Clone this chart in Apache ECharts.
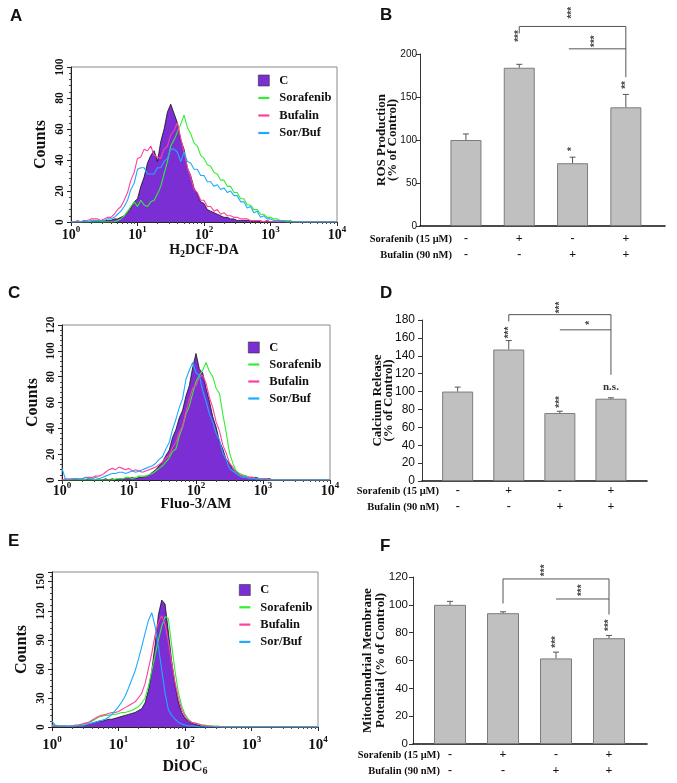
<!DOCTYPE html>
<html>
<head>
<meta charset="utf-8">
<title>ROS, calcium release and mitochondrial membrane potential</title>
<script src="https://cdn.jsdelivr.net/npm/echarts@6.0.0/dist/echarts.min.js"></script>
<style>
  html, body { margin: 0; padding: 0; background: #fff; }
  #main { width: 677px; height: 783px; }
</style>
</head>
<body>
<div id="main"></div>
<script>
var SERIF = "'Liberation Serif', 'Times New Roman', serif";
var SANS = "'Liberation Sans', Arial, sans-serif";

// flow cytometry channels, 20 per decade from 10^0 to 10^4
var channelExp = [];
for (var i = 0; i <= 80; i++) channelExp.push(i / 20);
var channels = channelExp.map(function (e) { return Math.pow(10, e); });

var histNames = ["C", "Sorafenib", "Bufalin", "Sor/Buf"];
var histColors = ["#7a2ed3", "#33ee33", "#ff3fa0", "#1eaaff"];

// A: H2DCF-DA
var dcfC = [0,0,0,0,1,0,0,1,0,1,1,1, 1,2,2,3,4,6, 9,13,15,23,29,38, 43,46,39,52,60,71, 76,70,64,53,47,35,
  30,22,18,13,12,8, 7,6,5,4,3,3, 2,2,1,1,1,1, 1,0,1,0,0,1, 0,0,0,0,0,0,0,0,0,0,0,0,0,0,0,0,0,0,0,0,0];
var dcfSor = [0,0,0,0,0,0,0,0,0,0,0,0, 0,0,1,2,4,7, 10,13,10,14,11,10, 13,14,18,23,31,39, 49,53,58,63,69,61,
  57,51,49,43,41,37, 36,32,31,27,27,23, 23,19,19,15,15,11, 11,8,8,5,5,3, 3,2,2,1,1,1, 1,0,0,0,0,0,0,0,0,0,0,0,0,0,0];
var dcfBuf = [0,0,1,0,1,1,2,2,2,1,2,3, 3,5,8,10,14,19, 27,32,41,42,47,46, 49,43,42,41,47,49, 56,59,64,54,45,35,
  29,21,19,14,14,10, 10,7,8,5,6,4, 4,3,3,2,2,2, 1,1,1,1,0,1, 0,0,0,0,0,0,0,0,0,0,0,0,0,0,0,0,0,0,0,0,0];
var dcfSorBuf = [0,0,0,0,1,0,1,1,1,1,1,2, 2,3,5,7,10,14, 21,25,34,35,35,31, 31,31,35,35,39,41, 47,47,45,39,45,39,
  38,34,34,30,30,26, 26,23,24,21,22,19, 20,17,17,13,13,9, 10,6,7,3,4,2, 2,1,1,1,1,0, 0,0,0,0,0,0,0,0,0,0,0,0,0,0,0];

// C: Fluo-3/AM
var fluoC = [0,0,0,0,1,0,0,0,1,0,0,0, 0,1,0,1,0,1, 1,1,1,2,1,2, 2,3,4,6,8,11, 14,19,23,33,39,48,
  54,65,73,87,98,86, 83,71,61,49,41,30, 24,16,13,8,7,4, 3,3,2,2,2,1, 1,1,1,0,0,0, 0,0,0,0,0,0,0,0,0,0,0,0,0,0,0];
var fluoSor = [0,0,0,0,0,0,0,0,0,0,0,0, 0,0,0,0,1,1, 1,2,2,1,2,3, 3,3,4,5,7,9, 11,14,17,22,24,34,
  41,51,57,67,76,81, 85,91,84,80,71,67, 51,37,21,13,7,5, 4,3,2,2,1,1, 1,1,0,0,0,0, 0,0,0,0,0,0,0,0,0,0,0,0,0,0,0];
var fluoBuf = [0,1,0,1,1,1,1,2,2,2,3,3, 4,6,8,9,8,10, 9,8,9,7,8,7, 6,7,8,9,10,12, 14,17,19,25,29,37,
  42,53,62,71,73,80, 81,75,64,56,45,38, 27,21,13,10,5,4, 3,2,2,2,1,1, 1,1,0,0,0,0, 0,0,0,0,0,0,0,0,0,0,0,0,0,0,0];
var fluoSorBuf = [9,1,1,1,1,1,1,2,1,1,2,1, 2,3,4,5,5,6, 6,5,6,7,6,7, 8,9,10,11,13,16, 18,24,29,39,47,56,
  63,78,85,91,83,81, 69,61,51,45,36,31, 21,16,9,7,5,3, 2,2,1,1,1,1, 0,0,0,0,0,0, 0,0,0,0,0,0,0,0,0,0,0,0,0,0,0];

// E: DiOC6
var diocC = [3,1,1,1,1,0,1,1,1,2,2,3, 4,5,6,6,7,8, 8,9,10,11,12,13, 14,15,17,19,25,38, 58,85,116,131,127,98,
  68,44,26,15,9,6, 4,3,2,1,1,1, 0,0,0,0,0,0, 0,0,0,0,0,0,0,0,0,0,0,0,0,0,0,0,0,0,0,0,0,0,0,0,0,0,0];
var diocSor = [2,1,1,1,1,1,1,1,2,2,3,4, 6,8,10,11,12,12, 13,13,14,15,15,16, 17,19,21,25,30,42, 58,74,90,104,114,112,
  84,58,36,22,13,8, 5,4,3,2,2,1, 1,1,1,0,0,0, 0,0,0,0,0,0,0,0,0,0,0,0,0,0,0,0,0,0,0,0,0,0,0,0,0,0,0];
var diocBuf = [1,1,1,1,1,1,1,2,2,3,4,5, 7,9,11,12,13,14, 15,15,16,18,20,22, 24,26,30,35,45,60, 76,95,108,115,106,88,
  66,46,30,18,11,7, 5,4,3,2,1,1, 1,0,0,0,0,0, 0,0,0,0,0,0,0,0,0,0,0,0,0,0,0,0,0,0,0,0,0,0,0,0,0,0,0];
var diocSorBuf = [6,2,1,1,1,1,1,1,1,1,2,3, 4,5,6,7,8,10, 13,17,21,26,32,40, 49,58,70,83,97,110, 118,104,83,59,35,18,
  12,8,5,3,2,1, 1,1,0,0,0,0, 0,0,0,0,0,0, 0,0,0,0,0,0,0,0,0,0,0,0,0,0,0,0,0,0,0,0,0,0,0,0,0,0,0];

// bar panels
var treatments = ["Control", "Sorafenib", "Bufalin", "Sor/Buf"];
var sorafenibRow = ["-", "+", "-", "+"];
var bufalinRow = ["-", "-", "+", "+"];
var rosMean = [100, 184, 73, 138];
var rosErr = [7, 4, 7, 15];
var calciumMean = [100, 147, 76, 92];
var calciumErr = [5, 10, 2, 1];
var mmpMean = [100, 94, 61.5, 76];
var mmpErr = [2.5, 1, 4.5, 2];

var chart = echarts.init(document.getElementById("main"));

var grids = [], xAxes = [], yAxes = [], series = [], legends = [];
var LINE_ICON = "path://M0,0L12,0L12,2.4L0,2.4Z";

function boldSerif(size, extra) {
  var s = { fontFamily: SERIF, fontWeight: "bold", fontSize: size, color: "#111" };
  for (var k in extra) s[k] = extra[k];
  return s;
}

function histPanel(p) {
  var gi = grids.length;
  grids.push({
    left: p.left, top: p.top, width: p.width, height: p.height,
    show: true, borderColor: "#8a8a8a", borderWidth: 1,
    outerBoundsMode: "none"
  });
  xAxes.push({
    gridIndex: gi, type: "log", logBase: 10, min: 1, max: 10000,
    axisLine: { show: true, lineStyle: { color: "#222", width: 1 } },
    axisTick: { show: true, length: 4, lineStyle: { color: "#222" } },
    minorTick: { show: true, splitNumber: 9, length: 2, lineStyle: { color: "#444" } },
    splitLine: { show: false },
    axisLabel: {
      margin: p.xMargin,
      formatter: function (v) {
        return "{b|10}{s|" + Math.round(Math.log10(v)) + "}";
      },
      rich: {
        b: boldSerif(p.tickSize, { lineHeight: 20 }),
        s: boldSerif(9, { verticalAlign: "top" })
      }
    },
    name: p.xName, nameLocation: "middle", nameGap: p.xNameGap, nameMoveOverlap: false,
    nameTextStyle: {
      rich: {
        n: boldSerif(p.nameSize, { lineHeight: 18 }),
        sub: boldSerif(10, { verticalAlign: "bottom" })
      }
    }
  });
  yAxes.push({
    gridIndex: gi, type: "value", min: 0, max: p.yMax, interval: p.yStep,
    axisLine: { show: true, lineStyle: { color: "#222", width: 1 } },
    axisTick: { show: true, length: 4, lineStyle: { color: "#222" } },
    minorTick: { show: true, splitNumber: 5, length: 2, lineStyle: { color: "#444" } },
    splitLine: { show: false },
    axisLabel: boldSerif(11.5, { rotate: 90, margin: p.yMargin, showMaxLabel: p.yMax % p.yStep === 0 }),
    name: "Counts", nameLocation: "middle", nameRotate: 90, nameGap: p.yNameGap, nameMoveOverlap: false,
    nameTextStyle: boldSerif(16)
  });
  p.sets.forEach(function (vals, k) {
    var s = {
      type: "line", name: histNames[k], xAxisIndex: gi, yAxisIndex: gi,
      data: channels.map(function (c, j) { return [c, vals[j]]; }),
      symbol: "none", silent: true, z: 2 + k,
      color: histColors[k],
      lineStyle: { width: 1.1, color: histColors[k] }
    };
    if (k === 0) {
      s.lineStyle = { width: 0.8, color: "#111" };
      s.areaStyle = { color: histColors[0], opacity: 1 };
    }
    series.push(s);
  });
  legends.push({
    orient: "vertical", left: p.legendLeft, top: p.legendTop,
    itemWidth: 11, itemHeight: 11, itemGap: p.legendGap, padding: 0,
    selectedMode: false,
    data: [
      { name: "C", icon: "rect", itemStyle: { color: histColors[0], borderColor: "#333", borderWidth: 0.6 } },
      { name: "Sorafenib", icon: LINE_ICON, itemStyle: { color: histColors[1], borderWidth: 0 } },
      { name: "Bufalin", icon: LINE_ICON, itemStyle: { color: histColors[2], borderWidth: 0 } },
      { name: "Sor/Buf", icon: LINE_ICON, itemStyle: { color: histColors[3], borderWidth: 0 } }
    ],
    textStyle: boldSerif(12.5, { padding: [0, 0, 0, 5] })
  });
}

function barPanel(p) {
  var gv = grids.length;
  grids.push({ left: p.axisLeft, top: p.top, width: p.axisWidth, height: p.height, outerBoundsMode: "none" });
  var gb = grids.length;
  grids.push({ left: p.barLeft, top: p.top, width: p.barBand * 4, height: p.height, outerBoundsMode: "none" });

  xAxes.push({
    gridIndex: gv, type: "value", min: 0, max: 1,
    axisLine: { show: true, onZero: false, lineStyle: { color: "#111", width: 1.6 } },
    axisTick: { show: false }, axisLabel: { show: false }, splitLine: { show: false }
  });
  yAxes.push({
    gridIndex: gv, type: "value", min: 0, max: p.yMax, interval: p.yStep,
    axisLine: { show: true, lineStyle: { color: "#333", width: 1 } },
    axisTick: { show: true, length: 4, lineStyle: { color: "#333" } },
    splitLine: { show: false },
    axisLabel: { fontFamily: SANS, fontSize: p.tickSize, color: "#111", margin: p.yMargin },
    name: p.yName, nameLocation: "middle", nameRotate: 90, nameGap: p.yNameGap, nameMoveOverlap: false,
    nameTextStyle: boldSerif(13, { lineHeight: p.nameLine })
  });
  xAxes.push({
    gridIndex: gb, type: "category", data: treatments,
    axisLine: { show: false }, axisTick: { show: false }, splitLine: { show: false },
    axisLabel: {
      interval: 0, margin: p.xMargin,
      formatter: function (v, idx) {
        return "{p|" + sorafenibRow[idx] + "}\n{p|" + bufalinRow[idx] + "}";
      },
      rich: { p: boldSerif(12, { lineHeight: 16 }) }
    }
  });
  yAxes.push({ gridIndex: gb, type: "value", min: 0, max: p.yMax, show: false });

  series.push({
    type: "bar", xAxisIndex: gb, yAxisIndex: gb, data: p.mean,
    barWidth: p.barWidth, silent: true, z: 2,
    itemStyle: { color: "#c0c0c0", borderColor: "#7c7c7c", borderWidth: 1 }
  });
  series.push({
    type: "custom", xAxisIndex: gb, yAxisIndex: gb, silent: true, z: 3,
    data: p.mean.map(function (m, j) { return [j, m, m + p.err[j]]; }),
    renderItem: function (params, api) {
      var base = api.coord([api.value(0), api.value(1)]);
      var top = api.coord([api.value(0), api.value(2)]);
      return {
        type: "group",
        children: [
          { type: "line", shape: { x1: base[0], y1: base[1], x2: top[0], y2: top[1] }, style: { stroke: "#555", lineWidth: 1 } },
          { type: "line", shape: { x1: top[0] - 3, y1: top[1], x2: top[0] + 3, y2: top[1] }, style: { stroke: "#555", lineWidth: 1 } }
        ]
      };
    }
  });
  return gb;
}

histPanel({
  left: 71, top: 67, width: 266, height: 155, yMax: 100, yStep: 20,
  sets: [dcfC, dcfSor, dcfBuf, dcfSorBuf],
  xName: "{n|H}{sub|2}{n|DCF-DA}", nameSize: 14, tickSize: 14, xMargin: 3, xNameGap: 19,
  yMargin: 5, yNameGap: 22, legendLeft: 258, legendTop: 74, legendGap: 4.5
});
var gB = barPanel({
  axisLeft: 420, axisWidth: 245, barLeft: 439.3, barBand: 53.3, top: 54, height: 172,
  yMax: 200, yStep: 50, tickSize: 10, yMargin: 3, xMargin: 5,
  yName: "ROS Production\n(% of Control)", nameLine: 11, yNameGap: 22,
  mean: rosMean, err: rosErr, barWidth: 31
});
histPanel({
  left: 62, top: 325, width: 268, height: 155, yMax: 120, yStep: 20,
  sets: [fluoC, fluoSor, fluoBuf, fluoSorBuf],
  xName: "{n|Fluo-3/AM}", nameSize: 15, tickSize: 14, xMargin: 1, xNameGap: 15,
  yMargin: 4.5, yNameGap: 21.5, legendLeft: 248, legendTop: 341, legendGap: 4
});
var gD = barPanel({
  axisLeft: 422, axisWidth: 225, barLeft: 432.1, barBand: 51.1, top: 320, height: 161,
  yMax: 180, yStep: 20, tickSize: 12, yMargin: 7, xMargin: 2,
  yName: "Calcium Release\n(% of Control)", nameLine: 11, yNameGap: 28,
  mean: calciumMean, err: calciumErr, barWidth: 31
});
histPanel({
  left: 52, top: 572, width: 266, height: 155, yMax: 160, yStep: 30,
  sets: [diocC, diocSor, diocBuf, diocSorBuf],
  xName: "{n|DiOC}{sub|6}", nameSize: 16, tickSize: 15, xMargin: 8, xNameGap: 31,
  yMargin: 5, yNameGap: 22, legendLeft: 239, legendTop: 583.5, legendGap: 4.3
});
var gF = barPanel({
  axisLeft: 413, axisWidth: 234, barLeft: 423.5, barBand: 53, top: 577, height: 167,
  yMax: 120, yStep: 20, tickSize: 11.5, yMargin: 5, xMargin: 3,
  yName: "Mitochondrial Membrane\nPotential (% of Control)", nameLine: 13, yNameGap: 26,
  mean: mmpMean, err: mmpErr, barWidth: 32
});

chart.setOption({
  animation: false,
  backgroundColor: "#ffffff",
  grid: grids, xAxis: xAxes, yAxis: yAxes, series: series, legend: legends
});

// significance marks, in data units of each bar panel (x in category steps)
var sigB = {
  grid: gB,
  brackets: [{ from: 1, to: 3, y: 232, fromDrop: 224, toDrop: 173 }, { from: 1.93, to: 3, y: 206 }],
  stars: [{ x: 2, y: 248, t: "***" }, { x: 2.43, y: 215, t: "***" }, { x: 1, y: 221, t: "***" },
          { x: 2, y: 89.5, t: "*" }, { x: 3, y: 164, t: "**" }],
  notes: []
};
var sigD = {
  grid: gD,
  brackets: [{ from: 1, to: 3, y: 186, fromDrop: 178.4, toDrop: 118.7 }, { from: 2, to: 3, y: 169 }],
  stars: [{ x: 2, y: 194, t: "***" }, { x: 2.59, y: 177, t: "*" }, { x: 1, y: 166, t: "***" },
          { x: 2, y: 88.5, t: "***" }],
  notes: [{ x: 3, y: 105, t: "n.s." }]
};
var sigF = {
  grid: gF,
  brackets: [{ from: 1, to: 3, y: 118.6, fromDrop: 101, toDrop: 93 }, { from: 2, to: 3, y: 104.2 }],
  stars: [{ x: 1.8, y: 124.8, t: "***" }, { x: 2.49, y: 110.5, t: "***" }, { x: 2, y: 73.4, t: "***" },
          { x: 3, y: 85.4, t: "***" }],
  notes: []
};

var graphics = [];
// category axes snap to whole indexes, so blend neighbours for in-between positions
function px(g, x, y) {
  var i0 = Math.floor(x), f = x - i0;
  var a = chart.convertToPixel({ xAxisIndex: g, yAxisIndex: g }, [i0, y]);
  if (f === 0) return a;
  var b = chart.convertToPixel({ xAxisIndex: g, yAxisIndex: g }, [i0 + 1, y]);
  return [a[0] + f * (b[0] - a[0]), a[1]];
}
function addLine(a, b) {
  graphics.push({ type: "line", silent: true, shape: { x1: a[0], y1: a[1], x2: b[0], y2: b[1] },
    style: { stroke: "#555", lineWidth: 1 } });
}
[sigB, sigD, sigF].forEach(function (sig) {
  sig.brackets.forEach(function (b) {
    var l = px(sig.grid, b.from, b.y), r = px(sig.grid, b.to, b.y);
    addLine(l, r);
    if (b.fromDrop !== undefined) addLine(l, px(sig.grid, b.from, b.fromDrop));
    if (b.toDrop !== undefined) addLine(r, px(sig.grid, b.to, b.toDrop));
  });
  sig.stars.forEach(function (s) {
    var c = px(sig.grid, s.x, s.y);
    graphics.push({ type: "text", silent: true, x: c[0], y: c[1], rotation: Math.PI / 2,
      style: { text: s.t, fontFamily: SANS, fontWeight: "bold", fontSize: 10, fill: "#444",
               align: "center", verticalAlign: "middle" } });
  });
  sig.notes.forEach(function (s) {
    var c = px(sig.grid, s.x, s.y);
    graphics.push({ type: "text", silent: true, x: c[0], y: c[1],
      style: { text: s.t, fontFamily: SERIF, fontWeight: "bold", fontSize: 11, fill: "#333",
               align: "center", verticalAlign: "middle" } });
  });
});

// row titles for the treatment table under each bar panel
[[gB, 452, 13], [gD, 439, 10], [gF, 440, 11]].forEach(function (r) {
  var base = px(r[0], 0, 0)[1];
  ["Sorafenib (15 \u03bcM)", "Bufalin (90 nM)"].forEach(function (t, k) {
    graphics.push({ type: "text", silent: true, x: r[1], y: base + r[2] + k * 16,
      style: { text: t, fontFamily: SERIF, fontWeight: "bold", fontSize: 10.5, fill: "#111",
               align: "right", verticalAlign: "middle" } });
  });
});

// panel letters
[["A", 10, 8], ["B", 380, 7], ["C", 8, 285], ["D", 380, 285], ["E", 8, 533], ["F", 380, 538]].forEach(function (l) {
  graphics.push({ type: "text", silent: true, x: l[1], y: l[2],
    style: { text: l[0], fontFamily: SANS, fontWeight: "bold", fontSize: 17, fill: "#111" } });
});

chart.setOption({ graphic: graphics });
</script>
</body>
</html>
